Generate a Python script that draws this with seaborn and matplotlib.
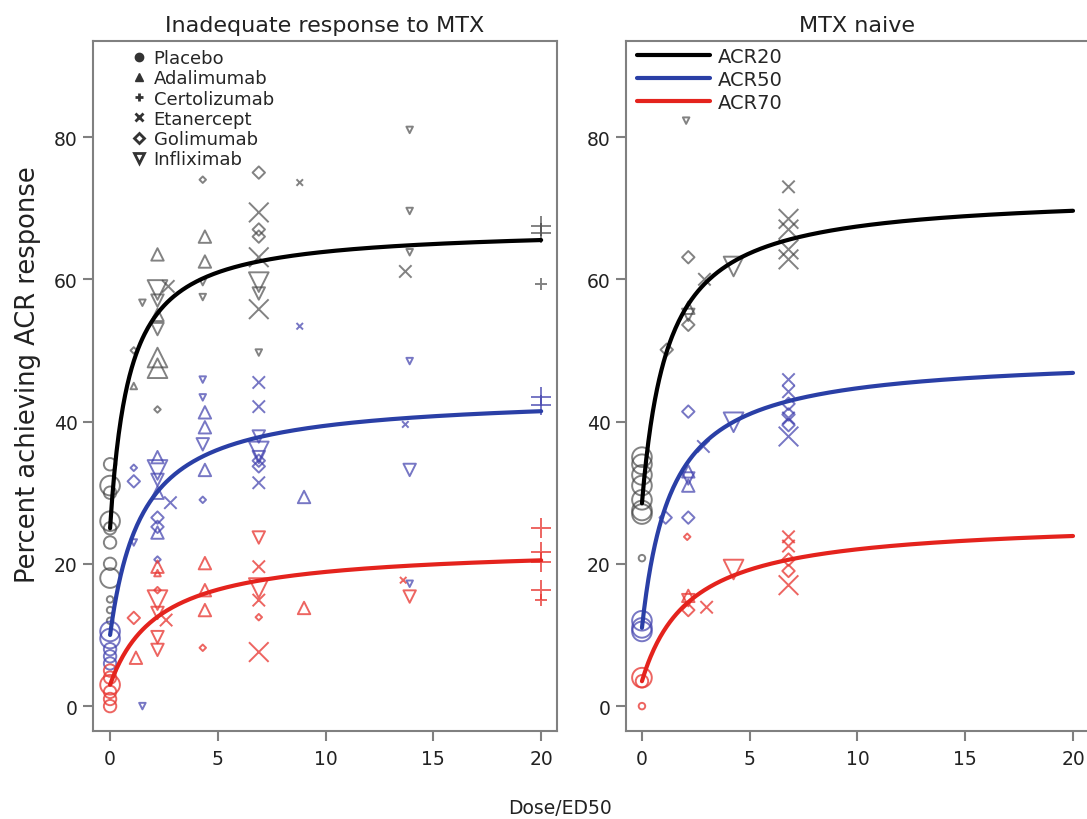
import numpy as np
import pandas as pd
import matplotlib
matplotlib.use("Agg")
import matplotlib.pyplot as plt
from matplotlib.lines import Line2D
from matplotlib.markers import MarkerStyle
import seaborn as sns

sns.set_theme(style="white")
plt.rcParams["font.family"] = ["DejaVu Sans"]

PANELS = ["Inadequate response to MTX", "MTX naive"]
ENDPOINTS = ["ACR20", "ACR50", "ACR70"]
DRUGS = ["Placebo", "Adalimumab", "Certolizumab", "Etanercept", "Golimumab", "Infliximab"]
X_TICKS = [0, 5, 10, 15, 20]
Y_TICKS = [0, 20, 40, 60, 80]

# study arms: (drug, dose/ED50, percent responders, relative study size 1-3)
IR_ACR20 = [
    ("Placebo", 0, 34, 2), ("Placebo", 0, 31, 3), ("Placebo", 0, 30, 2), ("Placebo", 0, 26, 3),
    ("Placebo", 0, 25, 2), ("Placebo", 0, 23, 2), ("Placebo", 0, 20, 2), ("Placebo", 0, 18, 3),
    ("Placebo", 0, 15, 1), ("Placebo", 0, 13.5, 1), ("Placebo", 0, 12, 1),
    ("Adalimumab", 1.1, 45, 1), ("Adalimumab", 2.2, 63.5, 2), ("Adalimumab", 2.2, 55, 2),
    ("Adalimumab", 2.2, 49, 3), ("Adalimumab", 2.2, 47.5, 3), ("Adalimumab", 4.4, 66, 2),
    ("Adalimumab", 4.4, 62.5, 2),
    ("Certolizumab", 20, 67.5, 3), ("Certolizumab", 20, 66.5, 3), ("Certolizumab", 20, 59.3, 2),
    ("Etanercept", 2.7, 59, 2), ("Etanercept", 6.9, 69.4, 3), ("Etanercept", 6.9, 63.1, 3),
    ("Etanercept", 6.9, 55.8, 3), ("Etanercept", 8.8, 73.6, 1), ("Etanercept", 13.7, 61.1, 2),
    ("Golimumab", 1.1, 50, 1), ("Golimumab", 2.2, 41.7, 1), ("Golimumab", 4.3, 74, 1),
    ("Golimumab", 6.9, 75, 2), ("Golimumab", 6.9, 67, 2), ("Golimumab", 6.9, 66, 2),
    ("Infliximab", 1.5, 56.7, 1), ("Infliximab", 2.2, 58.5, 3), ("Infliximab", 2.2, 57, 2),
    ("Infliximab", 2.2, 53, 2), ("Infliximab", 4.3, 59.6, 1), ("Infliximab", 4.3, 57.5, 1),
    ("Infliximab", 6.9, 59.6, 3), ("Infliximab", 6.9, 58, 2), ("Infliximab", 6.9, 49.7, 1),
    ("Infliximab", 13.9, 81, 1), ("Infliximab", 13.9, 69.6, 1), ("Infliximab", 13.9, 63.8, 1),
]
IR_ACR50 = [
    ("Placebo", 0, 10.5, 3), ("Placebo", 0, 9.5, 3), ("Placebo", 0, 8, 2), ("Placebo", 0, 7, 2),
    ("Placebo", 0, 6, 2),
    ("Adalimumab", 2.2, 35, 2), ("Adalimumab", 2.2, 30, 2), ("Adalimumab", 2.2, 24.4, 2),
    ("Adalimumab", 4.4, 41.3, 2), ("Adalimumab", 4.4, 39.2, 2), ("Adalimumab", 4.4, 33.2, 2),
    ("Adalimumab", 9, 29.4, 2),
    ("Certolizumab", 20, 43.5, 3), ("Certolizumab", 20, 42.3, 3),
    ("Etanercept", 2.8, 28.6, 2), ("Etanercept", 6.9, 45.5, 2), ("Etanercept", 6.9, 42.1, 2),
    ("Etanercept", 6.9, 31.4, 2), ("Etanercept", 8.8, 53.4, 1), ("Etanercept", 13.7, 39.6, 1),
    ("Golimumab", 1.1, 33.5, 1), ("Golimumab", 1.1, 31.6, 2), ("Golimumab", 2.2, 26.5, 2),
    ("Golimumab", 2.2, 25.2, 2), ("Golimumab", 2.2, 20.6, 1), ("Golimumab", 4.3, 29, 1),
    ("Golimumab", 6.9, 33.7, 2), ("Golimumab", 6.9, 34.5, 2),
    ("Infliximab", 1.1, 23, 1), ("Infliximab", 1.5, 0, 1), ("Infliximab", 2.2, 33.2, 3),
    ("Infliximab", 2.2, 31.8, 2), ("Infliximab", 4.3, 45.9, 1), ("Infliximab", 4.3, 43.4, 1),
    ("Infliximab", 4.3, 36.8, 2), ("Infliximab", 6.9, 37.9, 2), ("Infliximab", 6.9, 35.8, 3),
    ("Infliximab", 6.9, 35, 2), ("Infliximab", 13.9, 48.5, 1), ("Infliximab", 13.9, 33.2, 2),
    ("Infliximab", 13.9, 17.2, 1),
]
IR_ACR70 = [
    ("Placebo", 0, 5, 2), ("Placebo", 0, 4, 2), ("Placebo", 0, 3, 3), ("Placebo", 0, 2, 2),
    ("Placebo", 0, 1, 2), ("Placebo", 0, 0, 2),
    ("Adalimumab", 1.2, 6.8, 2), ("Adalimumab", 2.2, 19.6, 2), ("Adalimumab", 2.2, 18.7, 1),
    ("Adalimumab", 4.4, 20.1, 2), ("Adalimumab", 4.4, 16.3, 2), ("Adalimumab", 4.4, 13.5, 2),
    ("Adalimumab", 9, 13.8, 2),
    ("Certolizumab", 20, 25, 3), ("Certolizumab", 20, 21.7, 3), ("Certolizumab", 20, 20.3, 3),
    ("Certolizumab", 20, 16.3, 3), ("Certolizumab", 20, 14.9, 2),
    ("Etanercept", 2.6, 12.1, 2), ("Etanercept", 6.9, 19.6, 2), ("Etanercept", 6.9, 14.9, 2),
    ("Etanercept", 6.9, 7.6, 3), ("Etanercept", 13.6, 17.7, 1),
    ("Golimumab", 1.1, 12.4, 2), ("Golimumab", 2.2, 16.3, 1), ("Golimumab", 4.3, 8.2, 1),
    ("Golimumab", 6.9, 12.5, 1),
    ("Infliximab", 2.2, 14.9, 3), ("Infliximab", 2.2, 13.1, 2), ("Infliximab", 2.2, 9.7, 2),
    ("Infliximab", 2.2, 7.9, 2), ("Infliximab", 6.9, 23.7, 2), ("Infliximab", 6.9, 16.6, 3),
    ("Infliximab", 13.9, 15.4, 2),
]
NAIVE_ACR20 = [
    ("Placebo", 0, 35, 3), ("Placebo", 0, 34, 3), ("Placebo", 0, 32.5, 3), ("Placebo", 0, 31, 3),
    ("Placebo", 0, 29, 3), ("Placebo", 0, 27.5, 3), ("Placebo", 0, 27, 3), ("Placebo", 0, 20.8, 1),
    ("Adalimumab", 2.15, 56, 2),
    ("Etanercept", 2.9, 60, 2), ("Etanercept", 6.8, 73, 2), ("Etanercept", 6.8, 68.5, 3),
    ("Etanercept", 6.8, 67, 3), ("Etanercept", 6.8, 64.2, 3), ("Etanercept", 6.8, 62.8, 3),
    ("Golimumab", 1.15, 50.1, 2), ("Golimumab", 2.15, 63.1, 2), ("Golimumab", 2.15, 53.6, 2),
    ("Infliximab", 2.05, 82.3, 1), ("Infliximab", 2.15, 55, 2), ("Infliximab", 4.25, 61.8, 3),
]
NAIVE_ACR50 = [
    ("Placebo", 0, 12, 3), ("Placebo", 0, 11, 3), ("Placebo", 0, 10.5, 3),
    ("Adalimumab", 2.15, 33, 2), ("Adalimumab", 2.15, 31, 2),
    ("Etanercept", 2.85, 36.5, 2), ("Etanercept", 6.8, 45.9, 2), ("Etanercept", 6.8, 44.2, 2),
    ("Etanercept", 6.8, 40.5, 2), ("Etanercept", 6.8, 37.9, 3),
    ("Golimumab", 1.1, 26.5, 2), ("Golimumab", 2.15, 41.4, 2), ("Golimumab", 2.15, 26.5, 2),
    ("Golimumab", 6.8, 42.5, 2), ("Golimumab", 6.8, 41, 2), ("Golimumab", 6.8, 39.5, 2),
    ("Infliximab", 2.15, 32, 2), ("Infliximab", 4.25, 39.9, 3),
]
NAIVE_ACR70 = [
    ("Placebo", 0, 4, 3), ("Placebo", 0, 3.5, 2), ("Placebo", 0, 0, 1),
    ("Adalimumab", 2.15, 15.5, 2),
    ("Etanercept", 3.0, 13.9, 2), ("Etanercept", 6.8, 23.8, 2), ("Etanercept", 6.8, 22.5, 2),
    ("Etanercept", 6.8, 17, 3),
    ("Golimumab", 2.1, 23.8, 1), ("Golimumab", 2.15, 13.5, 2), ("Golimumab", 6.8, 20.6, 2),
    ("Golimumab", 6.8, 19, 2),
    ("Infliximab", 2.15, 14.9, 2), ("Infliximab", 4.25, 19.2, 3),
]

# Emax model fits per endpoint: (E0, Emax, half-maximal dose in Dose/ED50 units)
IR_FIT = {"ACR20": (25.0, 42.3, 0.88), "ACR50": (10.0, 33.8, 1.49), "ACR70": (3.0, 19.5, 2.29)}
NAIVE_FIT = {"ACR20": (28.5, 43.6, 1.2), "ACR50": (11.0, 38.3, 1.37), "ACR70": (3.5, 22.7, 2.24)}

# ---- styling ----
LINE_COLORS = {"ACR20": "#000000", "ACR50": "#2a3fa6", "ACR70": "#e4231d"}
POINT_COLORS = {"ACR20": "#404040", "ACR50": "#4242ae", "ACR70": "#e83a35"}
POINT_ALPHA = {"ACR20": 0.65, "ACR50": 0.72, "ACR70": 0.78}
MARKERS = {"Placebo": "o", "Adalimumab": "^", "Certolizumab": "+", "Etanercept": "x",
           "Golimumab": "D", "Infliximab": "v"}
SIZE_MAP = {1: 22, 2: 80, 3: 200}
FRAME = "#808080"


def to_frame(rows, endpoint):
    df = pd.DataFrame(rows, columns=["drug", "dose", "pct", "weight"])
    df["endpoint"] = endpoint
    return df


def fit_curves(fits):
    grid = np.linspace(0, 20, 400)
    parts = []
    for ep, (e0, emax, k) in fits.items():
        parts.append(pd.DataFrame({"dose": grid, "pct": e0 + emax * grid / (k + grid), "endpoint": ep}))
    return pd.concat(parts, ignore_index=True)


panel_points = [
    pd.concat([to_frame(IR_ACR20, "ACR20"), to_frame(IR_ACR50, "ACR50"), to_frame(IR_ACR70, "ACR70")]),
    pd.concat([to_frame(NAIVE_ACR20, "ACR20"), to_frame(NAIVE_ACR50, "ACR50"), to_frame(NAIVE_ACR70, "ACR70")]),
]
panel_curves = [fit_curves(IR_FIT), fit_curves(NAIVE_FIT)]

fig = plt.figure(figsize=(10.87, 8.20), dpi=100)
ax_l = fig.add_axes([0.0856, 0.1073, 0.4269, 0.8415])
ax_r = fig.add_axes([0.5759, 0.1073, 0.4251, 0.8415])
axes = [ax_l, ax_r]
xlims = [(-0.79, 20.74), (-0.74, 20.7)]

for ax, pts, curves, title, xl in zip(axes, panel_points, panel_curves, PANELS, xlims):
    for ep in ENDPOINTS:
        for drug in DRUGS:
            sub = pts[(pts.endpoint == ep) & (pts.drug == drug)]
            if sub.empty:
                continue
            m = MARKERS[drug]
            mk = m if m in ("x", "+") else MarkerStyle(m, fillstyle="none")
            sizes = {k: v * (0.5 if m == "D" else 1.0) for k, v in SIZE_MAP.items()}
            sns.scatterplot(data=sub, x="dose", y="pct", size="weight", sizes=sizes,
                            marker=mk, color=POINT_COLORS[ep], alpha=POINT_ALPHA[ep],
                            linewidth=1.4, legend=False, ax=ax, zorder=2)
    sns.lineplot(data=curves, x="dose", y="pct", hue="endpoint", palette=LINE_COLORS,
                 linewidth=3.0, legend=False, ax=ax, zorder=3)

    ax.set_xlim(*xl)
    ax.set_ylim(-3.5, 93.5)
    ax.set_xticks(X_TICKS)
    ax.set_yticks(Y_TICKS)
    ax.set_xlabel("")
    ax.set_ylabel("")
    ax.set_title(title, fontsize=16, pad=7, color="#222222")
    ax.tick_params(axis="both", which="major", direction="out", length=7, width=1.5,
                   color=FRAME, labelsize=13.5, labelcolor="#222222", pad=4,
                   bottom=True, left=True)
    ax.tick_params(axis="x", pad=6)
    for sp in ax.spines.values():
        sp.set_color(FRAME)
        sp.set_linewidth(1.5)

ax_r.spines["right"].set_visible(False)

# drug legend (symbols)
drug_handles = []
for drug in DRUGS:
    m = MARKERS[drug]
    if m in ("o", "^"):
        h = Line2D([], [], linestyle="none", marker=m, markersize=6, color="#333333")
    elif m in ("x", "+"):
        h = Line2D([], [], linestyle="none", marker=m, markersize=6, color="#333333",
                   markeredgewidth=2.0)
    else:
        h = Line2D([], [], linestyle="none", marker=m, markersize=5.5 if m == "D" else 6.5,
                   color="#333333", markerfacecolor="none", markeredgewidth=2.0)
    drug_handles.append(h)
ax_l.legend(drug_handles, DRUGS, loc="upper left", bbox_to_anchor=(0.084, 0.988),
            frameon=False, fontsize=13, handlelength=0.8, handletextpad=0.4,
            labelspacing=0.12, borderpad=0.0, borderaxespad=0.0)

# endpoint legend (fitted curves)
ep_handles = [Line2D([], [], color=LINE_COLORS[ep], linewidth=3.0) for ep in ENDPOINTS]
ax_r.legend(ep_handles, ENDPOINTS, loc="upper left", bbox_to_anchor=(0.024, 0.992),
            frameon=False, fontsize=14, handlelength=3.76, handletextpad=0.41,
            labelspacing=0.22, borderpad=0.0, borderaxespad=0.0)

fig.text(0.515, 0.0146, "Dose/ED50", ha="center", va="center", fontsize=13.5, color="#222222")
fig.text(0.026, 0.543, "Percent achieving ACR response", ha="center", va="center",
         rotation=90, fontsize=18.5, color="#222222")

fig.savefig("out.png", dpi=100)
